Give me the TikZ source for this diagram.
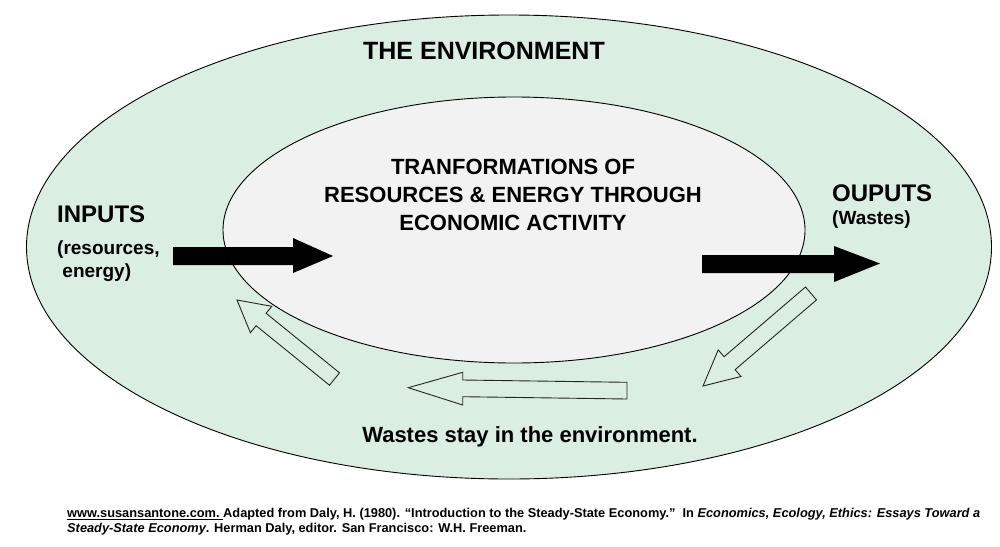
\documentclass[tikz,border=0pt]{standalone}
\usepackage{fontspec}
\setmainfont{Liberation Sans}
\usetikzlibrary{shapes.geometric}
\definecolor{envgreen}{RGB}{218,238,225}
\definecolor{innergray}{RGB}{242,242,242}
\tikzset{
  zone/.style={ellipse, draw=black, line width=0.9pt, inner sep=0pt},
  bigtitle/.style={font=\fontsize{25}{30}\selectfont\bfseries, inner sep=0pt},
  label/.style={font=\fontsize{22}{28}\selectfont\bfseries, inner sep=0pt, align=center},
  sub/.style={font=\fontsize{19}{23}\selectfont\bfseries, inner sep=0pt, align=left},
  solidarrow/.style={fill=black, draw=none},
  hollowarrow/.style={fill=envgreen, draw=black!85, line width=0.9pt, line join=miter},
  cite/.style={font=\fontsize{12.8}{15}\selectfont\bfseries, inner sep=0pt, align=left, anchor=north west}
}
\begin{document}
\begin{tikzpicture}[x=1pt, y=-1pt]
\useasboundingbox (0,0) rectangle (1000,546);
\fill[white] (0,0) rectangle (1000,546);
% ellipses
\node[zone, fill=envgreen, minimum width=965pt, minimum height=464pt] (env) at (509,247) {};
\node[zone, fill=innergray, minimum width=582pt, minimum height=266pt] (econ) at (514,230) {};
% titles
\node[bigtitle] (envtitle) at (484,51) {THE ENVIRONMENT};
\node[label] (econtitle) at (513,195) {TRANFORMATIONS OF\\RESOURCES \& ENERGY THROUGH\\ECONOMIC ACTIVITY};
\node[label, font=\fontsize{24}{28}\selectfont\bfseries, anchor=west] (inputs) at (57,214) {INPUTS};
\node[sub, anchor=north west] (inputsub) at (57,241) {(resources,\\\ energy)};
\node[label, font=\fontsize{24}{28}\selectfont\bfseries, anchor=west] (outputs) at (832,193) {OUPUTS};
\node[sub, anchor=west] (outputsub) at (832,220) {(Wastes)};
\node[label] (wastes) at (530,437) {Wastes stay in the environment.};
% solid arrows
\fill[solidarrow] (173,247) -- (293,247) -- (293,238) -- (333,256) -- (293,273) -- (293,265) -- (173,265) -- cycle;
\fill[solidarrow] (702,255) -- (834,255) -- (834,246) -- (880,263.5) -- (834,282) -- (834,273) -- (702,273) -- cycle;
% hollow arrows
\draw[hollowarrow] (805.5,287.0) -- (724.1,356.7) -- (718.2,349.9) -- (703,386) -- (741.0,376.5) -- (735.1,369.7) -- (816.5,299.9) -- cycle;
\draw[hollowarrow] (627,382.3) -- (462.7,380) -- (462.7,372.3) -- (408.3,387.7) -- (462.7,405) -- (462.7,396.7) -- (627,399) -- cycle;
\draw[hollowarrow] (339.5,372.8) -- (266.1,313.3) -- (271.8,306.3) -- (237,300) -- (250.4,332.7) -- (256.1,325.7) -- (329.5,385.2) -- cycle;
% citation
\node[cite] (citation) at (67,508) {\underline{www.susansantone.com.\ }Adapted from Daly, H. (1980). “Introduction to the Steady-State Economy.”\ \ In \textit{Economics, Ecology, Ethics: Essays Toward a}\\\textit{Steady-State Economy}. Herman Daly, editor. San Francisco: W.H. Freeman.};
\end{tikzpicture}
\end{document}
